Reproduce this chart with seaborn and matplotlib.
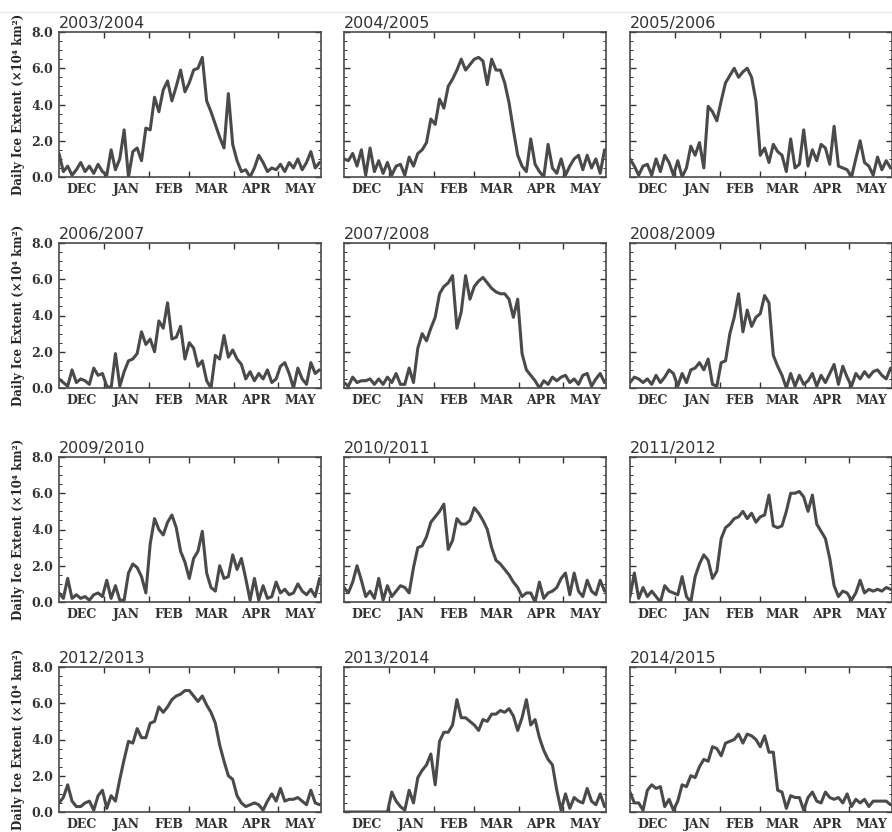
import matplotlib
matplotlib.use("Agg")
import matplotlib.pyplot as plt
from matplotlib.ticker import MultipleLocator
import seaborn as sns

# day of season (0 = 1 Dec), one reading every third day
days = list(range(0, 181, 3))
month_labels = ["DEC", "JAN", "FEB", "MAR", "APR", "MAY"]
month_starts = [0, 31, 62, 90, 121, 151, 182]
y_ticks = [0.0, 2.0, 4.0, 6.0, 8.0]

seasons = ["2003/2004", "2004/2005", "2005/2006", "2006/2007",
           "2007/2008", "2008/2009", "2009/2010", "2010/2011",
           "2011/2012", "2012/2013", "2013/2014", "2014/2015"]

# daily ice extent (x10^4 km2)
ice_2003_2004 = [1.3, 0.3, 0.6, 0.1, 0.4, 0.8, 0.3, 0.6, 0.2, 0.7, 0.3,
                 0.1, 1.5, 0.4, 1.0, 2.6, 0.0, 1.4, 1.6, 0.9, 2.7, 2.6,
                 4.4, 3.6, 4.8, 5.3, 4.2, 5.0, 5.9, 4.7, 5.2, 5.9, 6.0,
                 6.6, 4.2, 3.6, 2.9, 2.2, 1.6, 4.6, 1.8, 0.9, 0.3, 0.4,
                 0.0, 0.5, 1.2, 0.8, 0.3, 0.5, 0.4, 0.7, 0.3, 0.8, 0.5,
                 1.0, 0.4, 0.8, 1.4, 0.5, 0.8]
ice_2004_2005 = [1.0, 0.9, 1.3, 0.6, 1.5, 0.1, 1.6, 0.3, 0.9, 0.2, 0.8,
                 0.1, 0.6, 0.7, 0.1, 1.1, 0.6, 1.3, 1.5, 1.9, 3.2, 2.9,
                 4.3, 3.8, 5.0, 5.4, 5.9, 6.5, 5.9, 6.2, 6.5, 6.6, 6.4,
                 5.1, 6.5, 5.9, 5.9, 5.2, 4.1, 2.6, 1.2, 0.6, 0.3, 2.1,
                 0.7, 0.3, 0.0, 1.8, 0.5, 0.2, 1.0, 0.1, 0.6, 1.0, 1.2,
                 0.4, 1.2, 0.5, 1.0, 0.2, 1.5]
ice_2005_2006 = [1.0, 0.6, 0.1, 0.6, 0.7, 0.1, 1.0, 0.3, 1.2, 0.8, 0.1,
                 0.9, 0.0, 0.5, 1.7, 1.2, 1.9, 0.5, 3.9, 3.6, 3.1, 4.2,
                 5.2, 5.6, 6.0, 5.5, 5.8, 6.0, 5.5, 4.2, 1.2, 1.6, 0.8,
                 1.8, 1.4, 1.2, 0.3, 2.1, 0.5, 0.7, 2.6, 0.6, 1.5, 0.9,
                 1.8, 1.6, 0.7, 2.8, 0.6, 0.5, 0.4, 0.0, 1.0, 2.0, 0.8,
                 0.6, 0.1, 1.1, 0.4, 0.9, 0.5]
ice_2006_2007 = [0.5, 0.3, 0.1, 1.0, 0.3, 0.5, 0.4, 0.2, 1.1, 0.7, 0.8,
                 0.1, 0.0, 1.9, 0.1, 0.9, 1.5, 1.6, 1.9, 3.1, 2.4, 2.7,
                 2.0, 3.7, 3.3, 4.7, 2.7, 2.8, 3.4, 1.6, 2.5, 2.2, 1.2,
                 1.5, 0.4, 0.0, 1.8, 1.6, 2.9, 1.7, 2.1, 1.6, 1.3, 0.5,
                 0.9, 0.4, 0.8, 0.5, 1.0, 0.3, 0.5, 1.2, 1.4, 0.8, 0.0,
                 1.1, 0.5, 0.2, 1.4, 0.8, 1.0]
ice_2007_2008 = [0.3, 0.1, 0.6, 0.3, 0.4, 0.4, 0.5, 0.2, 0.5, 0.2, 0.6,
                 0.3, 0.8, 0.2, 0.2, 1.1, 0.3, 2.2, 3.0, 2.6, 3.3, 3.9,
                 5.2, 5.6, 5.8, 6.2, 3.3, 4.2, 6.2, 4.9, 5.6, 5.9, 6.1,
                 5.8, 5.5, 5.3, 5.2, 5.2, 4.9, 3.9, 4.9, 1.9, 1.0, 0.7,
                 0.4, 0.0, 0.4, 0.2, 0.6, 0.4, 0.6, 0.7, 0.3, 0.5, 0.2,
                 0.7, 0.8, 0.1, 0.5, 0.8, 0.3]
ice_2008_2009 = [0.3, 0.6, 0.5, 0.3, 0.5, 0.2, 0.7, 0.3, 0.6, 1.0, 0.8,
                 0.1, 0.8, 0.3, 1.0, 1.1, 1.4, 1.0, 1.6, 0.2, 0.1, 1.4,
                 1.5, 3.0, 3.9, 5.2, 3.1, 4.3, 3.4, 3.9, 4.1, 5.1, 4.7,
                 1.8, 1.2, 0.7, 0.0, 0.8, 0.1, 0.7, 0.2, 0.4, 0.8, 0.1,
                 0.7, 0.3, 0.8, 1.3, 0.2, 1.2, 0.6, 0.1, 0.8, 0.5, 0.9,
                 0.6, 0.9, 1.0, 0.7, 0.5, 1.1]
ice_2009_2010 = [0.5, 0.2, 1.3, 0.2, 0.4, 0.2, 0.3, 0.1, 0.4, 0.5, 0.3,
                 1.2, 0.2, 0.9, 0.1, 0.1, 1.6, 2.1, 1.9, 1.4, 0.5, 3.2,
                 4.6, 4.0, 3.7, 4.4, 4.8, 4.1, 2.8, 2.2, 1.3, 2.4, 2.8,
                 3.9, 1.6, 0.8, 0.6, 2.0, 1.3, 1.4, 2.6, 1.8, 2.4, 1.3,
                 0.1, 1.3, 0.1, 0.9, 0.2, 0.3, 1.1, 0.5, 0.7, 0.4, 0.5,
                 1.0, 0.6, 0.4, 0.7, 0.3, 1.3]
ice_2010_2011 = [0.8, 0.5, 1.1, 2.0, 1.2, 0.3, 0.6, 0.2, 1.3, 0.1, 0.9,
                 0.3, 0.6, 0.9, 0.8, 0.5, 1.9, 3.0, 3.1, 3.6, 4.4, 4.7,
                 5.0, 5.4, 2.9, 3.4, 4.6, 4.3, 4.3, 4.5, 5.2, 4.9, 4.5,
                 4.0, 3.0, 2.3, 2.1, 1.8, 1.5, 1.1, 0.8, 0.3, 0.5, 0.5,
                 0.0, 1.1, 0.2, 0.5, 0.6, 0.8, 1.3, 1.6, 0.4, 1.6, 0.6,
                 0.3, 1.2, 0.6, 0.4, 1.2, 0.6]
ice_2011_2012 = [0.3, 1.6, 0.2, 0.8, 0.3, 0.6, 0.3, 0.0, 0.9, 0.6, 0.5,
                 0.4, 1.4, 0.3, 0.0, 1.4, 2.1, 2.6, 2.3, 1.3, 1.7, 3.5,
                 4.1, 4.3, 4.6, 4.7, 5.0, 4.6, 4.9, 4.4, 4.7, 4.8, 5.9,
                 4.2, 4.1, 4.2, 5.0, 6.0, 6.0, 6.1, 5.8, 5.0, 5.9, 4.3,
                 3.9, 3.5, 2.4, 0.9, 0.3, 0.6, 0.5, 0.1, 0.5, 1.2, 0.5,
                 0.7, 0.6, 0.7, 0.6, 0.8, 0.7]
ice_2012_2013 = [0.5, 0.8, 1.5, 0.6, 0.3, 0.3, 0.5, 0.6, 0.1, 0.9, 1.2,
                 0.2, 0.9, 0.6, 1.8, 2.9, 3.9, 3.8, 4.6, 4.1, 4.1, 4.9,
                 5.0, 5.8, 5.5, 5.8, 6.2, 6.4, 6.5, 6.7, 6.7, 6.4, 6.1,
                 6.4, 5.9, 5.5, 4.9, 3.7, 2.8, 2.0, 1.8, 0.9, 0.5, 0.3,
                 0.4, 0.5, 0.4, 0.1, 0.6, 1.0, 0.6, 1.3, 0.6, 0.7, 0.7,
                 0.8, 0.6, 0.4, 1.2, 0.5, 0.4]
ice_2013_2014 = [0.0, 0.0, 0.0, 0.0, 0.0, 0.0, 0.0, 0.0, 0.0, 0.0, 0.0,
                 1.1, 0.6, 0.3, 0.1, 1.2, 0.5, 1.9, 2.3, 2.6, 3.2, 1.5,
                 3.9, 4.4, 4.4, 4.8, 6.2, 5.2, 5.2, 5.0, 4.8, 4.5, 5.1,
                 5.0, 5.4, 5.4, 5.6, 5.5, 5.7, 5.3, 4.5, 5.2, 6.2, 4.8,
                 5.1, 4.1, 3.4, 2.9, 2.6, 1.2, 0.1, 1.0, 0.2, 0.8, 0.6,
                 0.5, 1.3, 0.6, 0.4, 1.0, 0.3]
ice_2014_2015 = [1.1, 0.5, 0.5, 0.1, 1.2, 1.5, 1.3, 1.4, 0.3, 0.7, 0.1,
                 0.6, 1.5, 1.4, 2.0, 1.9, 2.5, 2.9, 2.8, 3.6, 3.5, 3.1,
                 3.8, 3.9, 4.0, 4.3, 3.8, 4.3, 4.2, 4.0, 3.6, 4.2, 3.3,
                 3.3, 1.2, 1.1, 0.2, 0.9, 0.8, 0.8, 0.1, 0.8, 1.1, 0.6,
                 0.5, 1.1, 0.8, 0.7, 0.8, 0.5, 1.0, 0.3, 0.7, 0.5, 0.7,
                 0.3, 0.6, 0.6, 0.6, 0.6, 0.4]

series = [ice_2003_2004, ice_2004_2005, ice_2005_2006, ice_2006_2007,
          ice_2007_2008, ice_2008_2009, ice_2009_2010, ice_2010_2011,
          ice_2011_2012, ice_2012_2013, ice_2013_2014, ice_2014_2015]

sns.set_style("ticks", {"xtick.direction": "in", "ytick.direction": "in",
                        "axes.edgecolor": "#4a4a4a"})
plt.rcParams["font.family"] = ["DejaVu Serif"]

W, H = 892, 832
fig = plt.figure(figsize=(W / 100, H / 100), dpi=100)
col_left = [59, 344, 630]
row_top = [32, 243, 457, 667]
pw, ph = 262, 145

month_mids = [(a + b) / 2 for a, b in zip(month_starts[:-1], month_starts[1:])]

for i, (season, vals) in enumerate(zip(seasons, series)):
    r, c = divmod(i, 3)
    ax = fig.add_axes([col_left[c] / W, 1 - (row_top[r] + ph) / H, pw / W, ph / H])
    sns.lineplot(x=days, y=vals, ax=ax, color="#4a4a4a", linewidth=2.2)
    ax.set_xlim(0, 181)
    ax.set_ylim(0, 8)

    ax.set_xticks(month_starts[1:-1])
    ax.set_xticklabels([""] * 5)
    ax.set_xticks(month_mids, minor=True)
    ax.set_xticklabels(month_labels, minor=True, fontweight="bold", fontsize=9)
    ax.set_yticks(y_ticks)
    ax.yaxis.set_minor_locator(MultipleLocator(0.5))
    if c == 0:
        ax.set_yticklabels([f"{v:.1f}" for v in y_ticks], fontweight="bold", fontsize=9)
        ax.set_ylabel("Daily Ice Extent (×10⁴ km²)", fontweight="bold", fontsize=8.5)
        ax.yaxis.set_label_coords(-0.13, 0.5)
    else:
        ax.set_yticklabels([])
        ax.set_ylabel("")
    ax.set_xlabel("")

    ax.tick_params(which="both", top=True, right=True, direction="in",
                   colors="#333333")
    ax.tick_params(axis="x", which="major", length=4.5, width=1)
    ax.tick_params(axis="x", which="minor", length=0, pad=4)
    ax.tick_params(axis="y", which="major", length=4.5, width=1, pad=4)
    ax.tick_params(axis="y", which="minor", length=2, width=0.7)
    for sp in ax.spines.values():
        sp.set_linewidth(1.2)

    ax.set_title(season, loc="left", fontfamily="DejaVu Sans", fontsize=11.5,
                 pad=3, color="#333333")

# faint rule across the top of the page
fig.add_artist(plt.Line2D([0, 1], [1 - 12 / H, 1 - 12 / H], color="#e8e8e8", lw=0.8))

fig.savefig("out.png", dpi=100)
